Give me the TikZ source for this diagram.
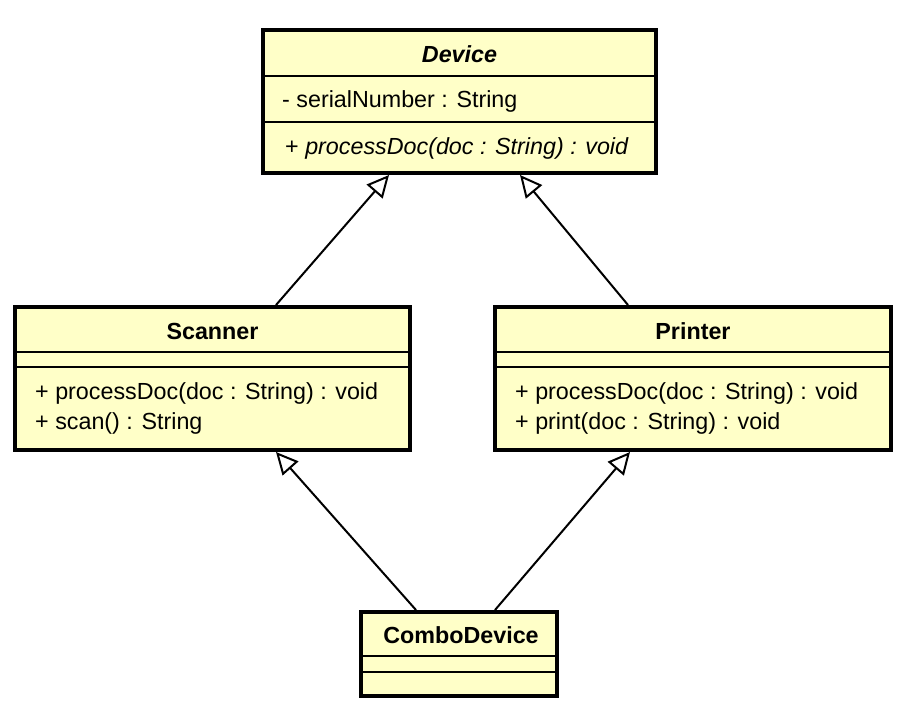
\documentclass[tikz,border=0pt]{standalone}
\usepackage{fontspec}
\setmainfont{Liberation Sans}
\usetikzlibrary{arrows.meta,calc}
\definecolor{classfill}{RGB}{255,255,200}
\begin{document}
\begin{tikzpicture}[x=1pt,y=-1pt,
  classbox/.style={draw=black, line width=4pt, fill=classfill, inner sep=0pt},
  divider/.style={line width=1.8pt},
  titletext/.style={font=\fontsize{23.3}{28}\selectfont\bfseries, inner sep=0pt},
  member/.style={font=\fontsize{23.3}{28}\selectfont, inner sep=0pt, anchor=west},
  inherit/.style={line width=2pt, -{Triangle[open, length=22pt, width=21pt, line width=2pt]}}]
\useasboundingbox (0,0) rectangle (903,707);
% Device
\node[classbox, minimum width=393pt, minimum height=143pt] (device) at (459.5,101.5) {};
\draw[divider] (263,76) -- (656,76);
\draw[divider] (263,122) -- (656,122);
\node[titletext, font=\fontsize{23.3}{28}\selectfont\bfseries\itshape] (devicetitle) at (459.5,54) {Device};
\node[member] (deviceattr) at (282,101) {- serialNumber : String};
\node[member] (deviceop) at (285,148) {+ \textit{processDoc(doc : String) : void}};
% Scanner
\node[classbox, minimum width=395pt, minimum height=143pt] (scanner) at (212.5,378.5) {};
\draw[divider] (15,352) -- (410,352);
\draw[divider] (15,367) -- (410,367);
\node[titletext] (scannertitle) at (212.5,331) {Scanner};
\node[member] (scannerop1) at (35,393) {+ processDoc(doc : String) : void};
\node[member] (scannerop2) at (35,423) {+ scan() : String};
% Printer
\node[classbox, minimum width=396pt, minimum height=143pt] (printer) at (693,378.5) {};
\draw[divider] (495,352) -- (891,352);
\draw[divider] (495,367) -- (891,367);
\node[titletext] (printertitle) at (693,331) {Printer};
\node[member] (printerop1) at (515,393) {+ processDoc(doc : String) : void};
\node[member] (printerop2) at (515,423) {+ print(doc : String) : void};
% ComboDevice
\node[classbox, minimum width=196pt, minimum height=84pt] (combo) at (459,654) {};
\draw[divider] (361,656) -- (557,656);
\draw[divider] (361,672) -- (557,672);
\node[titletext] (combotitle) at (461,635) {ComboDevice};
% Generalizations
\draw[inherit] ($(scanner.north west)+(263,0)$) -- ($(device.south west)+(128,0)$);
\draw[inherit] ($(printer.north west)+(135,0)$) -- ($(device.south west)+(259,0)$);
\draw[inherit] ($(combo.north west)+(57,0)$) -- ($(scanner.south west)+(263,0)$);
\draw[inherit] ($(combo.north west)+(136,0)$) -- ($(printer.south west)+(137,0)$);
\end{tikzpicture}
\end{document}
